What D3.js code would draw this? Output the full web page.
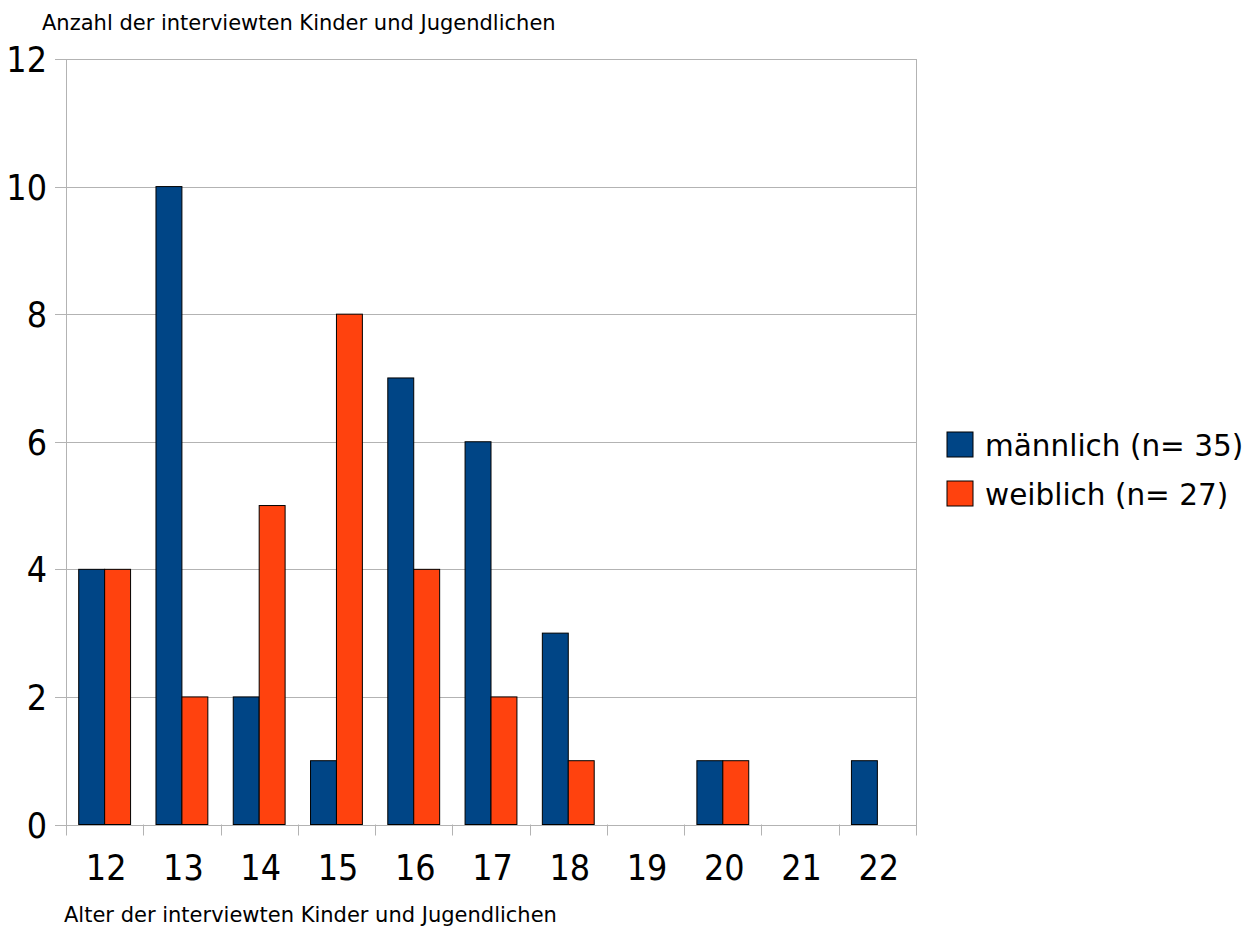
<!DOCTYPE html>
<html>
<head>
<meta charset="utf-8">
<script src="https://cdn.jsdelivr.net/npm/d3@7"></script>
<style>
  html, body { margin: 0; padding: 0; background: #fff; }
  svg { display: block; }
  text { font-family: "DejaVu Sans", sans-serif; fill: #000; }
  .num { font-family: "DejaVu Sans Condensed", "DejaVu Sans", sans-serif; }
</style>
</head>
<body>
<svg id="chart" width="1251" height="929"></svg>
<script>
// Age groups and interview counts per gender
const ages = ["12", "13", "14", "15", "16", "17", "18", "19", "20", "21", "22"];
const male = [4, 10, 2, 1, 7, 6, 3, 0, 1, 0, 1];
const female = [4, 2, 5, 8, 4, 2, 1, 0, 1, 0, 0];
const seriesNames = ["männlich (n= 35)", "weiblich (n= 27)"];
const seriesColors = ["#004586", "#ff420e"];
const yTicks = [0, 2, 4, 6, 8, 10, 12];
const yTitle = "Anzahl der interviewten Kinder und Jugendlichen";
const xTitle = "Alter der interviewten Kinder und Jugendlichen";

const svg = d3.select("#chart");
const plotLeft = 66, plotRight = 916, plotTop = 59, plotBottom = 824.5;
const gridColor = "#b3b3b3";

const x = d3.scaleBand().domain(ages).range([plotLeft, plotRight]).paddingInner(0).paddingOuter(0);
const y = d3.scaleLinear().domain([0, 12]).range([plotBottom, plotTop]);
const series = [male, female];
const inner = d3.scaleBand().domain(d3.range(series.length))
  .range([0, x.bandwidth()]).paddingOuter(0.49).paddingInner(0);

// horizontal grid lines with short ticks left of the axis
svg.append("g").selectAll("line").data(yTicks).join("line")
  .attr("x1", plotLeft - 11).attr("x2", plotRight)
  .attr("y1", d => Math.round(y(d)) + 0.5).attr("y2", d => Math.round(y(d)) + 0.5)
  .attr("stroke", gridColor).attr("stroke-width", 1);

// vertical axis line and right border
svg.append("line").attr("x1", plotLeft + 0.5).attr("x2", plotLeft + 0.5)
  .attr("y1", plotTop).attr("y2", plotBottom + 11)
  .attr("stroke", gridColor);
svg.append("line").attr("x1", plotRight + 0.5).attr("x2", plotRight + 0.5)
  .attr("y1", plotTop).attr("y2", plotBottom + 11)
  .attr("stroke", gridColor);

// category separators below the baseline
const bounds = ages.map(a => x(a)).concat([plotRight]);
svg.append("g").selectAll("line").data(bounds.slice(1, -1)).join("line")
  .attr("x1", d => Math.round(d) + 0.5).attr("x2", d => Math.round(d) + 0.5)
  .attr("y1", plotBottom).attr("y2", plotBottom + 11)
  .attr("stroke", gridColor);

// y tick labels
svg.append("g").selectAll("text").data(yTicks).join("text")
  .attr("class", "num")
  .attr("x", 47).attr("y", d => y(d))
  .attr("dy", "0.37em")
  .attr("text-anchor", "end")
  .attr("font-size", 35.5)
  .text(d => d);

// x tick labels
svg.append("g").selectAll("text").data(ages).join("text")
  .attr("class", "num")
  .attr("x", d => x(d) + x.bandwidth() / 2 + 1.5)
  .attr("y", 880)
  .attr("text-anchor", "middle")
  .attr("font-size", 35.5)
  .text(d => d);

// bars
series.forEach((vals, si) => {
  svg.append("g").selectAll("rect").data(vals.map((v, i) => ({ v, a: ages[i] })).filter(d => d.v > 0))
    .join("rect")
    .attr("x", d => x(d.a) + inner(si))
    .attr("y", d => y(d.v))
    .attr("width", inner.bandwidth())
    .attr("height", d => y(0) - y(d.v))
    .attr("fill", seriesColors[si])
    .attr("stroke", "#000")
    .attr("stroke-width", 1);
});

// axis titles
svg.append("text").attr("x", 42).attr("y", 30).attr("font-size", 21).text(yTitle);
svg.append("text").attr("x", 64).attr("y", 922).attr("font-size", 21).text(xTitle);

// legend
const legend = svg.append("g");
seriesNames.forEach((name, i) => {
  const ly = 432 + i * 49;
  legend.append("rect").attr("x", 947).attr("y", ly).attr("width", 26).attr("height", 25)
    .attr("fill", seriesColors[i]).attr("stroke", "#000").attr("stroke-width", 1);
  legend.append("text").attr("x", 985).attr("y", ly + 24).attr("font-size", 29.5).text(name);
});
</script>
</body>
</html>
